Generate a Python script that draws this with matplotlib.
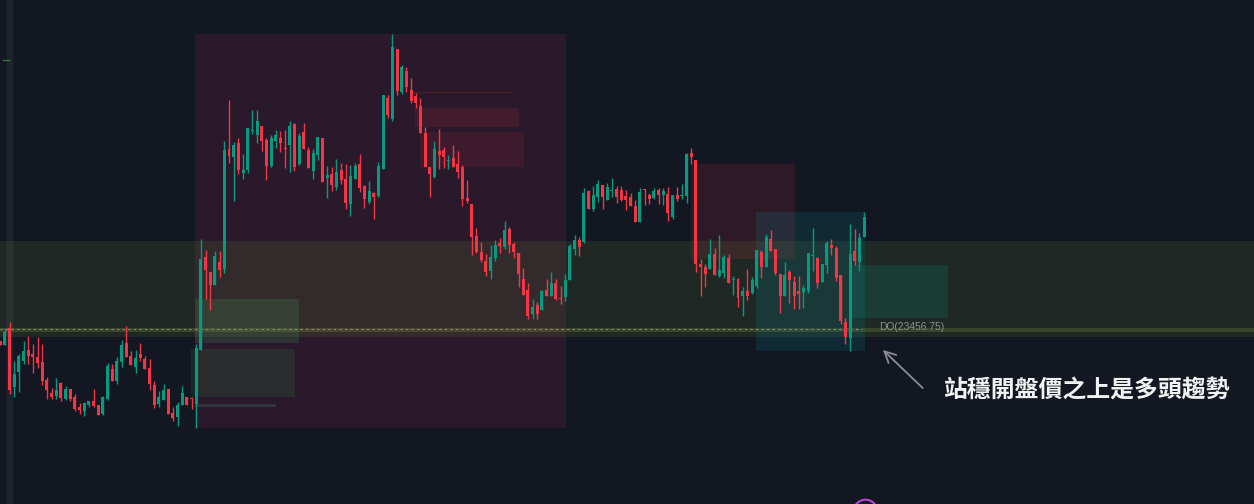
import numpy as np
import matplotlib.pyplot as plt
from matplotlib.patches import Rectangle

# OHLC data (one bar per index)
opens = [
    23453.75, 23452.75, 23457, 23442.25, 23446, 23448.75, 23451.5, 23450.5, 23449.75, 23448.5,
    23444, 23440.75, 23440, 23443.25, 23439.25, 23441.75, 23439.75, 23437.25, 23436.25, 23437.75,
    23438.75, 23437.75, 23435.5, 23439.25, 23446.75, 23443.75, 23448.5, 23453.25, 23450, 23447.25,
    23450.5, 23449.25, 23447, 23442.75, 23438, 23439, 23441.75, 23435.75, 23434.75, 23437.75,
    23439.75, 23439.5, 23438, 23451.5, 23474.75, 23471, 23467.75, 23473.5, 23471.75, 23501.75,
    23499.75, 23503.25, 23495.75, 23496.5, 23506.25, 23505.25, 23507.5, 23504, 23497.5, 23503.75,
    23504.5, 23502, 23502.75, 23508, 23498, 23506, 23501.5, 23496.25, 23500.25, 23504.5,
    23494.5, 23495.5, 23492.25, 23496.5, 23494.25, 23488, 23494.25, 23498, 23492.5, 23488.5,
    23490.75, 23490, 23496.75, 23514.5, 23509.25, 23526.75, 23516, 23521.25, 23516.5, 23515,
    23512.5, 23505.75, 23497.25, 23494.75, 23501.25, 23501.5, 23498.75, 23499.5, 23498, 23497.25,
    23489.5, 23488, 23480, 23476, 23473.75, 23471.25, 23474.5, 23478.25, 23477.25, 23481.75,
    23478, 23475.75, 23469.25, 23466.5, 23460.5, 23462.75, 23461.5, 23466.5, 23465, 23468.25,
    23464.5, 23464.75, 23469, 23476.75, 23479, 23478.5, 23491.25, 23486.75, 23489.75, 23492.75,
    23489, 23491.25, 23491.75, 23491.5, 23490, 23489.75, 23487.5, 23483.5, 23491.75, 23490.25,
    23489.5, 23491.5, 23490.25, 23490.5, 23484.75, 23490.25, 23490, 23490, 23500.75, 23499,
    23473, 23472.25, 23471.75, 23475.5, 23470, 23470.75, 23474.5, 23469, 23469.25, 23465,
    23466.25, 23465.75, 23467.5, 23476, 23472.25, 23479.25, 23476.75, 23470.5, 23465, 23471,
    23468.5, 23466.25, 23466, 23466.25, 23475, 23474.5, 23468.5, 23472.75, 23477.75, 23477,
    23470.25, 23458.5, 23454.5, 23476.25, 23473.5, 23479.75,
]
highs = [
    23453.75, 23457, 23458.5, 23448.75, 23450.5, 23453.75, 23455, 23453, 23454.75, 23453,
    23444.75, 23442, 23444.5, 23443.5, 23442.5, 23441.75, 23440.5, 23438.25, 23438.5, 23438.75,
    23441.75, 23437.75, 23440, 23448.25, 23448, 23449.75, 23454, 23457.5, 23451.25, 23451.5,
    23453.25, 23450, 23449.25, 23443.75, 23441.25, 23443, 23441.75, 23437.25, 23438.5, 23442.5,
    23439.75, 23439.75, 23453, 23479.25, 23476.5, 23471, 23476.25, 23476.25, 23503.75, 23514,
    23503.5, 23504.5, 23500.5, 23507, 23511.5, 23511.5, 23507.5, 23504.5, 23505.25, 23506.5,
    23506.25, 23506.5, 23508.75, 23508.25, 23505.75, 23508.25, 23502.25, 23501.75, 23504.75, 23504.5,
    23497.5, 23497.25, 23499.25, 23498.25, 23498, 23497.75, 23498.25, 23500.5, 23492.75, 23493.75,
    23491, 23498.5, 23515.25, 23515.25, 23530.5, 23526.75, 23522.75, 23522.25, 23519.5, 23515.75,
    23514.5, 23507.25, 23497.25, 23503.75, 23506.75, 23502.25, 23500.25, 23502.75, 23501.25, 23497.75,
    23494, 23488, 23482, 23478.5, 23475.5, 23477.75, 23479, 23479.5, 23483.75, 23482.25,
    23478.5, 23475.75, 23472, 23468.25, 23464.25, 23463.5, 23466.5, 23469.25, 23471, 23469.25,
    23467.5, 23470.5, 23478, 23480.25, 23479.75, 23492, 23491.5, 23492.5, 23494, 23492.75,
    23493.25, 23494.5, 23492.5, 23492.5, 23491.5, 23490.75, 23489, 23492, 23491.75, 23490.75,
    23492, 23492, 23492, 23492.25, 23490.25, 23492.25, 23493, 23500.75, 23502, 23499,
    23474.25, 23473, 23479.25, 23477, 23480.25, 23475.25, 23475.5, 23470, 23469.5, 23467.25,
    23471.75, 23469.75, 23476.5, 23476.5, 23480.5, 23481.5, 23476.75, 23470.5, 23473.5, 23471.5,
    23470, 23470, 23467.75, 23475.75, 23482, 23474.75, 23473, 23478.75, 23479.25, 23477.5,
    23470.25, 23459.5, 23483, 23481.75, 23480.75, 23486,
]
lows = [
    23452.75, 23452.75, 23440.5, 23439.75, 23441, 23448, 23448, 23445.75, 23447, 23442.75,
    23439.25, 23439.25, 23439.25, 23438.75, 23439, 23438.75, 23436.25, 23435.5, 23435, 23437.25,
    23437.25, 23435.25, 23435.25, 23439, 23443.75, 23443, 23447.25, 23449.75, 23447.75, 23445.75,
    23448.75, 23446.75, 23441.5, 23437, 23437.25, 23439, 23435.5, 23433.75, 23432.5, 23437.75,
    23437.75, 23436.75, 23432, 23451.5, 23464.25, 23461.5, 23467.75, 23469.75, 23470.75, 23498.25,
    23488.75, 23495.5, 23494.25, 23495.75, 23505.5, 23503.25, 23501.25, 23494, 23497.25, 23502,
    23501, 23497, 23496, 23496.25, 23497.75, 23501.75, 23497, 23494.25, 23499, 23493.5,
    23489.5, 23491.25, 23491.5, 23493, 23486.75, 23485, 23494.25, 23491, 23487, 23488,
    23484.25, 23489.75, 23496.75, 23509.5, 23508.75, 23515.25, 23515.5, 23516, 23513.25, 23512,
    23505.75, 23497.25, 23489.75, 23494.5, 23496.75, 23497, 23496.75, 23497.25, 23494.5, 23487.5,
    23488.25, 23475.25, 23475.75, 23473.5, 23470, 23469.25, 23473.75, 23475.75, 23476.75, 23475.75,
    23474.5, 23467.25, 23465.25, 23459.25, 23459.25, 23459.25, 23461.5, 23465, 23465, 23464,
    23463, 23463.75, 23469, 23475.25, 23475, 23478.25, 23486.75, 23486.25, 23488.5, 23486.75,
    23489, 23489.75, 23488.25, 23488.75, 23486.5, 23487.5, 23483.5, 23483.5, 23487.75, 23488,
    23489.25, 23488, 23487.75, 23483.75, 23484.25, 23488.75, 23489.25, 23488.25, 23498, 23471,
    23465, 23467.25, 23471.75, 23470.25, 23469.75, 23469.5, 23468.25, 23465.25, 23462.25, 23460,
    23464, 23465.5, 23467, 23469.5, 23472.25, 23476.25, 23470.25, 23460.75, 23465, 23463.25,
    23461.75, 23461.75, 23462, 23465.75, 23471.25, 23467, 23468.5, 23470.75, 23475.25, 23468.75,
    23458, 23453, 23451.25, 23472.75, 23471.25, 23479.75,
]
closes = [
    23452.75, 23456, 23441.5, 23445.5, 23450, 23451.25, 23450, 23449.75, 23448.25, 23443.75,
    23441.5, 23439.75, 23441.5, 23439.5, 23441.75, 23439.25, 23436.75, 23436.5, 23438.25, 23438.75,
    23437.5, 23435.25, 23439.75, 23447.5, 23443.75, 23448.75, 23452.75, 23449.75, 23447.75, 23449.5,
    23449.5, 23446.75, 23443, 23437.75, 23439.75, 23441.5, 23435.5, 23434.5, 23437.75, 23440.75,
    23437.75, 23439.25, 23452, 23474.25, 23471.5, 23467.75, 23475, 23471.5, 23501.5, 23500,
    23502.75, 23496.5, 23496.5, 23507, 23506.5, 23508.75, 23503.75, 23497.5, 23504.5, 23505.25,
    23503.25, 23501.75, 23507.5, 23497.25, 23505, 23501.75, 23497, 23500.75, 23504.75, 23493.5,
    23495.25, 23492.75, 23496, 23494, 23488.25, 23495, 23497.5, 23492, 23489.25, 23491.25,
    23489.75, 23497.5, 23515.25, 23510.25, 23527.25, 23516.25, 23522.25, 23517.25, 23513.75, 23513.25,
    23505.75, 23497.25, 23495.5, 23501.75, 23500.25, 23499.75, 23499, 23497.25, 23496, 23489.25,
    23488.75, 23479.75, 23476, 23474, 23471, 23474.75, 23477.75, 23477.5, 23481.5, 23477.75,
    23476, 23470.5, 23465.25, 23460, 23462.25, 23460.5, 23466.25, 23465, 23468.25, 23464.25,
    23464.25, 23469, 23477.5, 23479, 23477.25, 23490.75, 23486.75, 23490.25, 23493, 23489.75,
    23492.25, 23491.5, 23489.75, 23489, 23489, 23487.5, 23483.5, 23491, 23491.5, 23489.25,
    23491.25, 23490.25, 23491.25, 23485.75, 23490.25, 23489.25, 23490.25, 23500.5, 23499.75, 23473,
    23472.25, 23470.5, 23475.5, 23470.25, 23471.5, 23474.75, 23468.25, 23469.25, 23464.5, 23466.25,
    23465, 23469, 23476.5, 23472.25, 23479.75, 23476.25, 23470.75, 23465, 23470.25, 23469,
    23465, 23465.5, 23467, 23475.75, 23475.25, 23468.25, 23473, 23478.25, 23477, 23469.5,
    23458.75, 23454.75, 23475.5, 23473.75, 23479.5, 23484.75,
]

# Daily open level and annotation text
daily_open = 23456.75
do_label = 'DO(23456.75)'
note = '站穩開盤價之上是多頭趨勢'

bg = '#131722'
up_color = '#089981'
down_color = '#f23645'

o = np.array(opens)
h = np.array(highs)
l = np.array(lows)
c = np.array(closes)
x = np.arange(len(o))
colors = np.where(c >= o, up_color, down_color)

fig = plt.figure(figsize=(12.54, 5.04), dpi=100)
fig.patch.set_facecolor(bg)
ax = fig.add_axes([0, 0, 1, 1])
ax.set_facecolor(bg)
ax.set_xlim(-0.04, 268.5)
ax.set_ylim(23413, 23539)
ax.axis('off')

# Left scale strip and tiny marker
ax.axvspan(1.46, 2.53, color='#1e222d', zorder=0)
ax.plot([0.6, 1.9], [23524, 23524], color='#2e7d32', lw=1, zorder=1)

# Zones
def zone(x0, x1, y0, y1, color, alpha, z=1):
    ax.add_patch(Rectangle((x0, y0), x1 - x0, y1 - y0, facecolor=color,
                           edgecolor='none', alpha=alpha, zorder=z))

zone(41.7, 121.2, 23432, 23530.5, '#b32b5e', 0.15)          # session box
ax.axhspan(23454.75, 23478.75, color='#6b8e3a', alpha=0.15, lw=0, zorder=1)
ax.axhspan(23456, 23457, color='#8a9a3a', alpha=0.25, lw=0, zorder=1)
zone(147.9, 170.2, 23474.25, 23498, '#f23645', 0.12)
zone(161.8, 185.2, 23451.25, 23486, '#0097a7', 0.15)
zone(182.0, 203.0, 23459.5, 23472.75, '#089981', 0.18)
zone(88.8, 111.1, 23507.25, 23512, '#f23645', 0.12)
zone(89.9, 112.2, 23497.25, 23506, '#f23645', 0.10)
ax.plot([87.8, 109.2], [23516, 23516], color='#4a1f2c', lw=1, zorder=1)
zone(41.7, 64.0, 23453.25, 23464.25, '#40a860', 0.17)
zone(40.9, 63.1, 23439.75, 23451.75, '#2ea043', 0.14)
zone(41.7, 59.1, 23437.25, 23438, '#4a7a60', 0.3)

# Daily open dashed line and label
ax.plot([-0.04, 184.5], [daily_open, daily_open], color='#8a8a80', lw=0.8,
        dashes=(2, 3), zorder=2)
ax.text(188.2, daily_open + 0.5, do_label, color='#8c8f96', fontsize=7.4,
        family='Liberation Sans', va='center', ha='left', zorder=4)

# Candles
ax.vlines(x, l, h, colors=colors, lw=1, zorder=3)
body_low = np.minimum(o, c)
body_h = np.maximum(np.abs(c - o), 0.25)
ax.bar(x, body_h, bottom=body_low, width=0.64, color=colors, lw=0, zorder=3)

# Arrow and note
ax.annotate('', xy=(188.6, 23452), xytext=(198.0, 23441.5),
            arrowprops=dict(arrowstyle='->', color='#8a8d96', lw=1.3,
                            mutation_scale=20), zorder=4)
ax.text(201.9, 23441.5, note, color='#f2f2f2', fontsize=17.2, fontweight='bold',
        family=['Noto Sans CJK TC', 'DejaVu Sans'], va='center', ha='left', zorder=4)

# Partly hidden circle marker at the bottom
ax.plot([185.2], [23411.25], marker='o', markersize=17, markerfacecolor='none',
        markeredgecolor='#c040d8', markeredgewidth=1.5, clip_on=False, zorder=4)

fig.savefig('out.png', dpi=100, facecolor=bg)
